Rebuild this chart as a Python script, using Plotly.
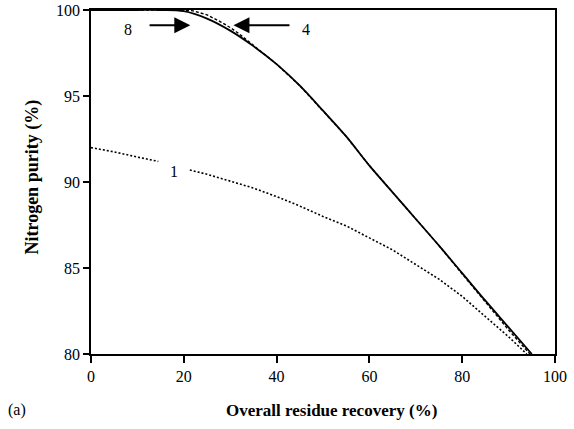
import plotly.graph_objects as go

# Curve 8 (solid)
x8 = [0, 5, 10, 15, 20, 25, 30, 35, 40, 45, 50, 55, 60, 65, 70, 75, 80, 85, 90, 95]
y8 = [100, 100, 100, 100, 99.93, 99.5, 98.8, 97.9, 96.85, 95.6, 94.15, 92.65, 90.95, 89.4, 87.85, 86.3, 84.7, 83.1, 81.55, 80.0]

# Curve 4 (dashed)
x4 = [0, 5, 10, 15, 20, 22, 25, 28, 30, 32, 35, 40, 45, 50, 55, 60, 65, 70, 75, 80, 85, 90, 94.6]
y4 = [100, 100, 100, 100, 100, 99.95, 99.72, 99.3, 98.98, 98.6, 97.95, 96.85, 95.6, 94.15, 92.65, 90.95, 89.4, 87.85, 86.3, 84.65, 83.0, 81.4, 80.0]

# Curve 1 (dotted), gap where label sits
x1 = [0, 5, 10, 14.5, 17.5, 21.3, 25, 30, 35, 40, 45, 50, 55, 60, 65, 70, 75, 80, 85, 90, 93.9]
y1 = [92.0, 91.75, 91.45, 91.2, None, 90.7, 90.45, 90.05, 89.65, 89.15, 88.6, 88.0, 87.45, 86.75, 86.05, 85.2, 84.35, 83.35, 82.2, 81.0, 80.0]

x_ticks = [0, 20, 40, 60, 80, 100]
y_ticks = [80, 85, 90, 95, 100]

FONT = "Liberation Serif"

fig = go.Figure()
fig.add_trace(go.Scatter(x=x1, y=y1, mode="lines", connectgaps=False,
                         line=dict(color="black", width=1.6, dash="2px,2px"), showlegend=False))
fig.add_trace(go.Scatter(x=x4, y=y4, mode="lines",
                         line=dict(color="black", width=1.4, dash="3px,2px"), showlegend=False))
fig.add_trace(go.Scatter(x=x8, y=y8, mode="lines", line_shape="spline",
                         line=dict(color="black", width=1.8), showlegend=False))

ann = [
    dict(x=21.4, y=99.12, ax=12.3, ay=99.12, xref="x", yref="y", axref="x", ayref="y",
         text="", showarrow=True, arrowhead=2, arrowsize=1.6, arrowwidth=2, arrowcolor="black"),
    dict(x=30.7, y=99.12, ax=43.1, ay=99.12, xref="x", yref="y", axref="x", ayref="y",
         text="", showarrow=True, arrowhead=2, arrowsize=1.6, arrowwidth=2, arrowcolor="black"),
    dict(x=8.0, y=98.85, xref="x", yref="y", text="8", showarrow=False,
         font=dict(family=FONT, size=16, color="black")),
    dict(x=46.3, y=98.85, xref="x", yref="y", text="4", showarrow=False,
         font=dict(family=FONT, size=16, color="black")),
    dict(x=17.8, y=90.62, xref="x", yref="y", text="1", showarrow=False,
         font=dict(family=FONT, size=16, color="black")),
    dict(x=-0.125, y=0.513, xref="paper", yref="paper", text="<b>Nitrogen purity (%)</b>",
         textangle=-90, showarrow=False, xanchor="center", yanchor="middle",
         font=dict(family=FONT, size=18, color="black")),
    dict(x=0.519, y=-0.163, xref="paper", yref="paper", text="<b>Overall residue recovery (%)</b>",
         showarrow=False, xanchor="center", yanchor="middle",
         font=dict(family=FONT, size=17, color="black")),
    dict(x=-0.159, y=-0.163, xref="paper", yref="paper", text="(a)",
         showarrow=False, xanchor="center", yanchor="middle",
         font=dict(family=FONT, size=16, color="black")),
]

fig.update_layout(
    width=574, height=429,
    margin=dict(l=91, r=19, t=10, b=75, autoexpand=False),
    paper_bgcolor="white", plot_bgcolor="white",
    font=dict(family=FONT, size=15, color="black"),
    annotations=ann,
    xaxis=dict(range=[0, 100], tickvals=x_ticks, ticktext=[str(v) for v in x_ticks],
               automargin=False,
               showgrid=False, zeroline=False, showline=True, linecolor="black", linewidth=1.5,
               mirror=True, ticks="outside", ticklen=7, tickwidth=1.5, tickcolor="black",
               tickfont=dict(family=FONT, size=16)),
    yaxis=dict(range=[80, 100], tickvals=y_ticks, ticktext=[str(v) for v in y_ticks],
               automargin=False,
               showgrid=False, zeroline=False, showline=True, linecolor="black", linewidth=1.5,
               mirror=True, ticks="outside", ticklen=6, tickwidth=1.5, tickcolor="black",
               tickfont=dict(family=FONT, size=16)),
)

fig.write_html("out.html", config={"displayModeBar": False},
               post_script="document.body.style.margin='0';document.body.style.overflow='hidden';")
